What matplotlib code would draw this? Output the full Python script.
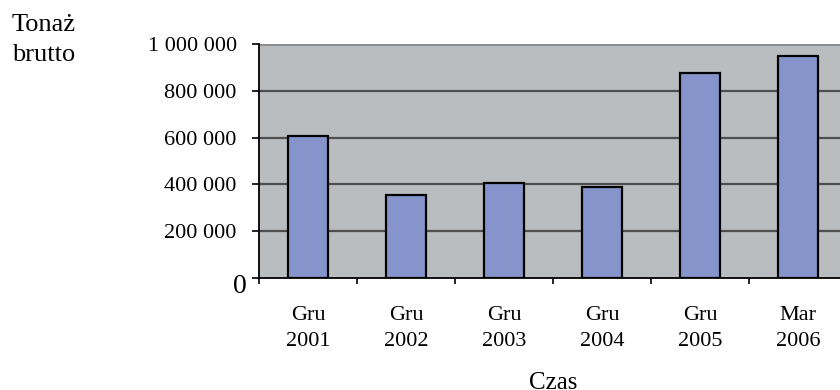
import matplotlib
matplotlib.use("Agg")
import matplotlib.pyplot as plt

# Gross tonnage by period
periods = ["Gru\n2001", "Gru\n2002", "Gru\n2003", "Gru\n2004", "Gru\n2005", "Mar\n2006"]
tonnage = [607000, 355000, 405000, 391000, 877000, 950000]
y_ticks = [0, 200000, 400000, 600000, 800000, 1000000]
y_tick_labels = ["0", "200 000", "400 000", "600 000", "800 000", "1 000 000"]

plt.rcParams["font.family"] = ["Liberation Serif", "DejaVu Serif"]

W, H = 840, 390
fig = plt.figure(figsize=(W / 100, H / 100), dpi=100)
fig.patch.set_facecolor("white")

left, right, bottom, top = 259, 847, 278, 44
ax = fig.add_axes([left / W, (H - bottom) / H, (right - left) / W, (bottom - top) / H])
ax.set_facecolor("#B9BDBF")

x = list(range(len(periods)))
ax.bar(x, tonnage, width=0.41, color="#8595CB", edgecolor="black", linewidth=1.6, zorder=3)

ax.set_xlim(-0.5, len(periods) - 0.5)
ax.set_ylim(0, 1000000)

# horizontal gridlines
for v in y_ticks[1:-1]:
    ax.axhline(v, color="#4f4f4f", linewidth=1.6, zorder=1)
ax.axhline(y_ticks[-1], color="#8c8c8c", linewidth=2.2, zorder=1)

for side in ["top", "right"]:
    ax.spines[side].set_visible(False)
for side in ["left", "bottom"]:
    ax.spines[side].set_color("black")
    ax.spines[side].set_linewidth(1.3)
    ax.spines[side].set_zorder(4)

# y axis; the zero label is drawn larger and slightly lower
ax.set_yticks(y_ticks)
ax.set_yticklabels([""] + y_tick_labels[1:])
ax.tick_params(axis="y", direction="out", length=5, width=1.2, pad=11, labelsize=16, color="black")
ax.annotate(y_tick_labels[0], xy=(0, y_ticks[0]), xycoords=("axes fraction", "data"),
            xytext=(-9, -6), textcoords="offset points", ha="right", va="center", fontsize=20)

# x axis: ticks on category boundaries, labels at centres
ax.set_xticks([i - 0.5 for i in range(len(periods) + 1)])
ax.set_xticklabels([])
ax.set_xticks(x, minor=True)
ax.set_xticklabels(periods, minor=True, fontsize=16, linespacing=1.55)
ax.tick_params(axis="x", which="major", direction="out", length=4.5, width=1.2, color="black")
ax.tick_params(axis="x", which="minor", length=0, pad=20)

fig.text(12 / W, 1 - 14 / H, "Tonaż\nbrutto", fontsize=19, ha="left", va="top", linespacing=1.45)
fig.text(553 / W, 1 - 372 / H, "Czas", fontsize=18, ha="center", va="top")

fig.savefig("out.png", dpi=100, facecolor="white")
